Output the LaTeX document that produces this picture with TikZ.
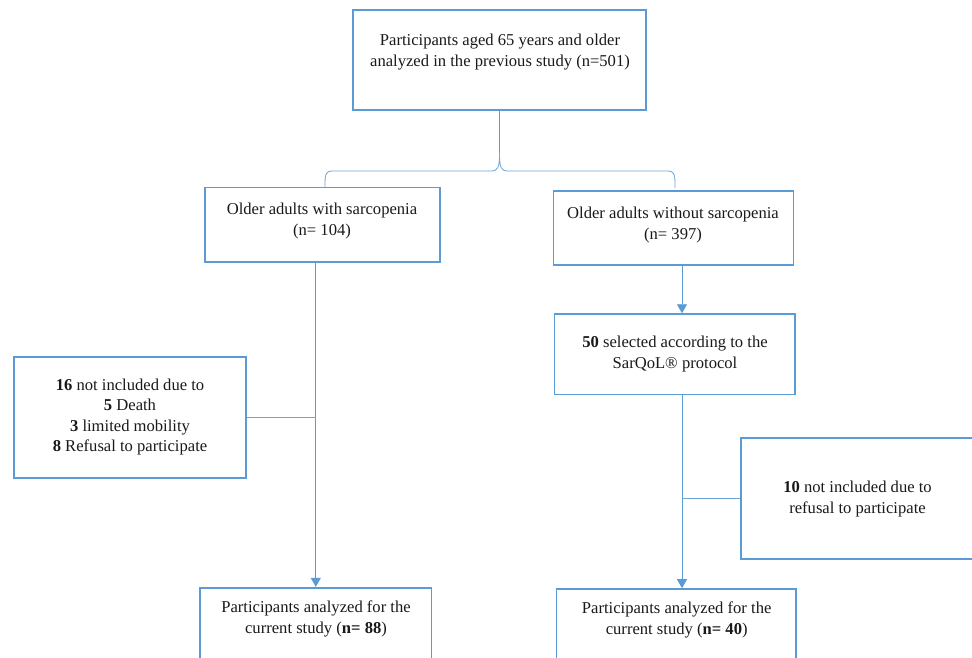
\documentclass[tikz,border=0pt]{standalone}
\usepackage{fontspec}
\setmainfont{Liberation Serif}
\usetikzlibrary{arrows.meta}
\definecolor{boxblue}{RGB}{91,155,213}
\definecolor{lineblue}{RGB}{110,165,218}
\begin{document}
\begin{tikzpicture}[x=1pt,y=-1pt,
  box/.style={draw=boxblue, line width=1.6pt, rectangle, inner sep=0pt},
  txt/.style={align=center, inner sep=0pt, font=\fontsize{16.6}{21}\selectfont, text=black!90},
  conn/.style={draw=lineblue, line width=0.9pt},
  arr/.style={conn, -{Triangle[width=10pt,length=9pt]}, color=boxblue}]
\useasboundingbox (0,0) rectangle (972,657);
\clip (0,0) rectangle (972,657);

% boxes
\node[box, minimum width=293pt, minimum height=100pt] (top) at (499.5,60) {};
\node[txt] (toptxt) at (500,52) {Participants aged 65 years and older\\analyzed in the previous study (n=501)};

\node[box, minimum width=235pt, minimum height=74.5pt] (sarc) at (322.5,224.75) {};
\node[txt] (sarctxt) at (322,221) {Older adults with sarcopenia\\(n= 104)};

\node[box, minimum width=240pt, minimum height=74pt] (nosarc) at (673.3,228) {};
\node[txt] (nosarctxt) at (673,225) {Older adults without sarcopenia\\(n= 397)};

\node[box, minimum width=240.7pt, minimum height=80.3pt] (sel) at (674.7,354.2) {};
\node[txt] (seltxt) at (675,354) {\textbf{50} selected according to the\\SarQoL® protocol};

\node[box, minimum width=232pt, minimum height=121pt] (exL) at (130,417.5) {};
\node[txt, font=\fontsize{16.6}{20.5}\selectfont] (exLtxt) at (130,417) {\textbf{16} not included due to\\\textbf{5} Death\\\textbf{3} limited mobility\\\textbf{8} Refusal to participate};

\node[box, minimum width=249pt, minimum height=121pt] (exR) at (865.5,498.5) {};
\node[txt, font=\fontsize{16.6}{20.5}\selectfont] (exRtxt) at (857.5,499) {\textbf{10} not included due to\\refusal to participate};

\node[box, minimum width=231.7pt, minimum height=92pt] (finL) at (315.8,633.7) {};
\node[txt] (finLtxt) at (316,619) {Participants analyzed for the\\current study (\textbf{n= 88})};

\node[box, minimum width=239.3pt, minimum height=92pt] (finR) at (676.3,635) {};
\node[txt] (finRtxt) at (676.7,620) {Participants analyzed for the\\current study (\textbf{n= 40})};

% column of the right-hand connectors
\coordinate (colR) at (682,0);

% brace
\coordinate (cusp) at (499.5,152);
\coordinate (bl) at (325,188);
\coordinate (br) at (675,188);
\draw[conn, draw=boxblue] (top.south) -- (cusp);
\draw[conn, line width=0.8pt] (bl) .. controls (325,174) and (325,171) .. (333,171)
  -- (491,171) .. controls (498,171) and (499.5,168) .. (cusp)
  .. controls (499.5,168) and (501,171) .. (508,171)
  -- (667,171) .. controls (675,171) and (675,174) .. (br);

% connectors
\draw[arr] (finL.north |- sarc.south) -- (finL.north);
\draw[conn] (exL.east) -- (exL.east -| finL.north);
\draw[arr] (colR |- nosarc.south) -- (colR |- sel.north);
\draw[arr] (colR |- sel.south) -- (colR |- finR.north);
\draw[conn] (exR.west) -- (exR.west -| colR);
\end{tikzpicture}
\end{document}
